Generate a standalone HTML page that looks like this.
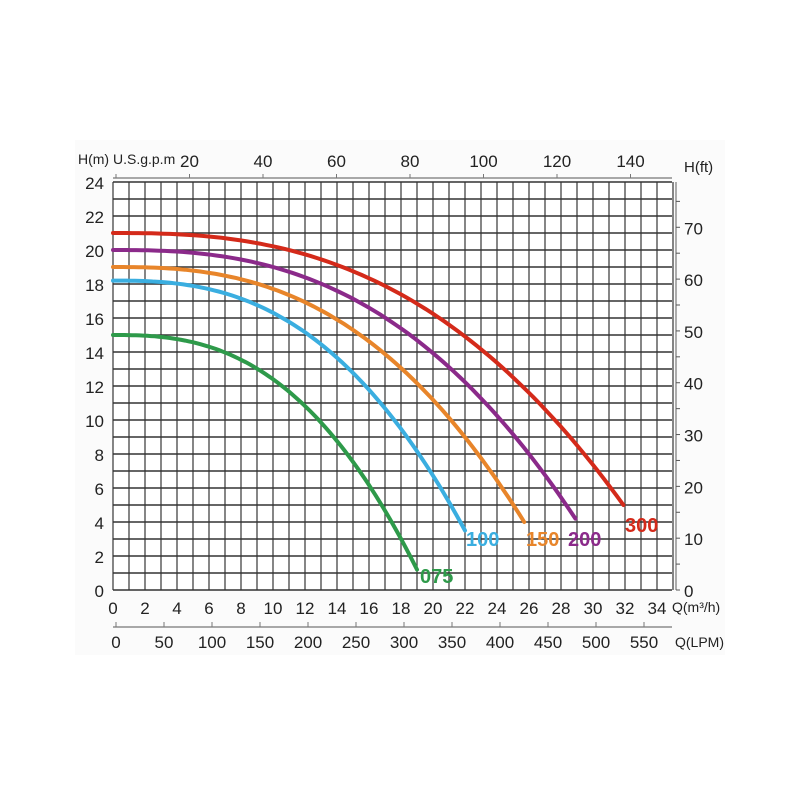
<!DOCTYPE html>
<html><head><meta charset="utf-8"><style>
html,body{margin:0;padding:0;background:#fff;}
svg{display:block;}
text{font-family:"Liberation Sans Narrow","Liberation Sans",sans-serif;fill:#222;}
</style></head><body>
<svg id="s" width="800" height="800" viewBox="0 0 800 800" xmlns="http://www.w3.org/2000/svg">
<rect x="75" y="140" width="650" height="515" fill="#fbfbfb"/>
<rect x="113" y="182" width="559" height="408" fill="#fff"/>
<g id="g"></g>
</svg>
<script>
const NS="http://www.w3.org/2000/svg",g=document.getElementById('g');
function el(t,a,txt){const e=document.createElementNS(NS,t);for(const k in a)e.setAttribute(k,a[k]);if(txt!==undefined)e.textContent=txt;g.appendChild(e);return e;}
const X=q=>113+q*16, Y=h=>590-h*17;
// grid
for(let q=0;q<=35;q++)el('line',{x1:X(q),y1:182,x2:X(q),y2:590,stroke:'#444','stroke-width':1.3});
for(let h=0;h<=24;h++)el('line',{x1:113,y1:Y(h),x2:672,y2:Y(h),stroke:'#333','stroke-width':1.6});
// left axis labels
for(let h=0;h<=24;h+=2)el('text',{x:104,y:Y(h)+7,'font-size':17,'text-anchor':'end'},h);
el('text',{x:78,y:164,'font-size':14},'H(m) U.S.g.p.m');
// top axis
el('line',{x1:113,y1:178,x2:672,y2:178,stroke:'#777','stroke-width':1.2});
for(let v=0;v<=140;v+=20){const x=116+v*3.675;el('line',{x1:x,y1:174,x2:x,y2:178,stroke:'#777'});if(v>0)el('text',{x:x,y:167,'font-size':17,'text-anchor':'middle'},v);}
// right axis
el('line',{x1:676,y1:182,x2:676,y2:590,stroke:'#777','stroke-width':1.2});
el('text',{x:684,y:172,'font-size':15},'H(ft)');
for(let f=0;f<=75;f+=5){const y=590-f*0.3048*17;el('line',{x1:676,y1:y,x2:680,y2:y,stroke:'#555'});if(f%10==0)el('text',{x:684,y:y+7,'font-size':17},f);}
// bottom Q axis
for(let q=0;q<=34;q+=2)el('text',{x:X(q),y:614,'font-size':17,'text-anchor':'middle'},q);
el('text',{x:672,y:612,'font-size':14},'Q(m³/h)');
// LPM axis
el('line',{x1:113,y1:627,x2:672,y2:627,stroke:'#777','stroke-width':1.2});
for(let l=0;l<=550;l+=50){const x=116+l*0.96;el('line',{x1:x,y1:622,x2:x,y2:627,stroke:'#777'});el('text',{x:x,y:648,'font-size':17,'text-anchor':'middle'},l);}
el('text',{x:675,y:647,'font-size':14},'Q(LPM)');
// curves
const C=[['075','#2e9a4a',15,19,1.2,420,583],['100','#3aaee0',18.2,22,3.5,466,546],['150','#e8852a',19,25.7,4,526,546],['200','#8b2a8a',20,28.9,4.2,568,546],['300','#d42a1a',21,31.9,5,625,532]];
for(const [n,c,h0,qe,he,lx,ly] of C){let d='';const p=2.6;
for(let i=0;i<=80;i++){const q=qe*i/80;const h=h0-(h0-he)*Math.pow(q/qe,p);d+=(i?'L':'M')+X(q).toFixed(1)+','+Y(h).toFixed(1);}
el('path',{d:d,fill:'none',stroke:c,'stroke-width':4,'stroke-linecap':'round'});
el('text',{x:lx,y:ly,'font-size':20,'font-weight':'bold',style:'fill:'+c},n);}
</script>
</body></html>
